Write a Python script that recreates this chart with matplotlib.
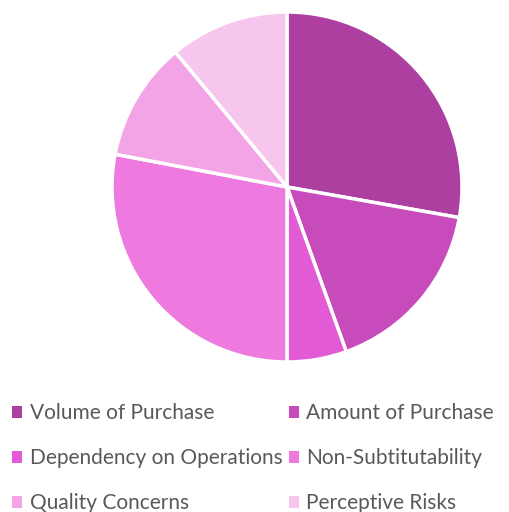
import matplotlib.pyplot as plt
from matplotlib.patches import Patch

labels = ["Volume of Purchase", "Amount of Purchase", "Dependency on Operations",
          "Non-Subtitutability", "Quality Concerns", "Perceptive Risks"]
values = [27.8, 16.7, 5.5, 28, 11, 11]
colors = ["#AC3F9F", "#C84BBB", "#E25AD5", "#EE7ADF", "#F2A4E6", "#F6C6EE"]

plt.rcParams['font.family'] = ['Lato', 'DejaVu Sans']

fig = plt.figure(figsize=(5.09, 5.12), dpi=100)
# pie centre (287,187), radius 175 px
ax = fig.add_axes([112 / 509, 1 - 362 / 512, 350 / 509, 350 / 512])
ax.pie(values, colors=colors, startangle=90, counterclock=False,
       wedgeprops=dict(edgecolor="white", linewidth=2.5))
ax.set_xlim(-1, 1)
ax.set_ylim(-1, 1)
ax.set_aspect("equal")

# legend is filled row by row in the reference
order = [0, 2, 4, 1, 3, 5]
handles = [Patch(facecolor=colors[i], edgecolor="none") for i in order]
leg = fig.legend(handles, [labels[i] for i in order], ncol=2, loc="upper left",
                 bbox_to_anchor=(12 / 509, 1 - 403 / 512), frameon=False,
                 borderpad=0, borderaxespad=0,
                 fontsize=15, handlelength=0.5, handleheight=0.5,
                 handletextpad=0.35, columnspacing=0.3, labelspacing=1.2)
for t in leg.get_texts():
    t.set_color("#595959")

fig.savefig("out.png", dpi=100)
